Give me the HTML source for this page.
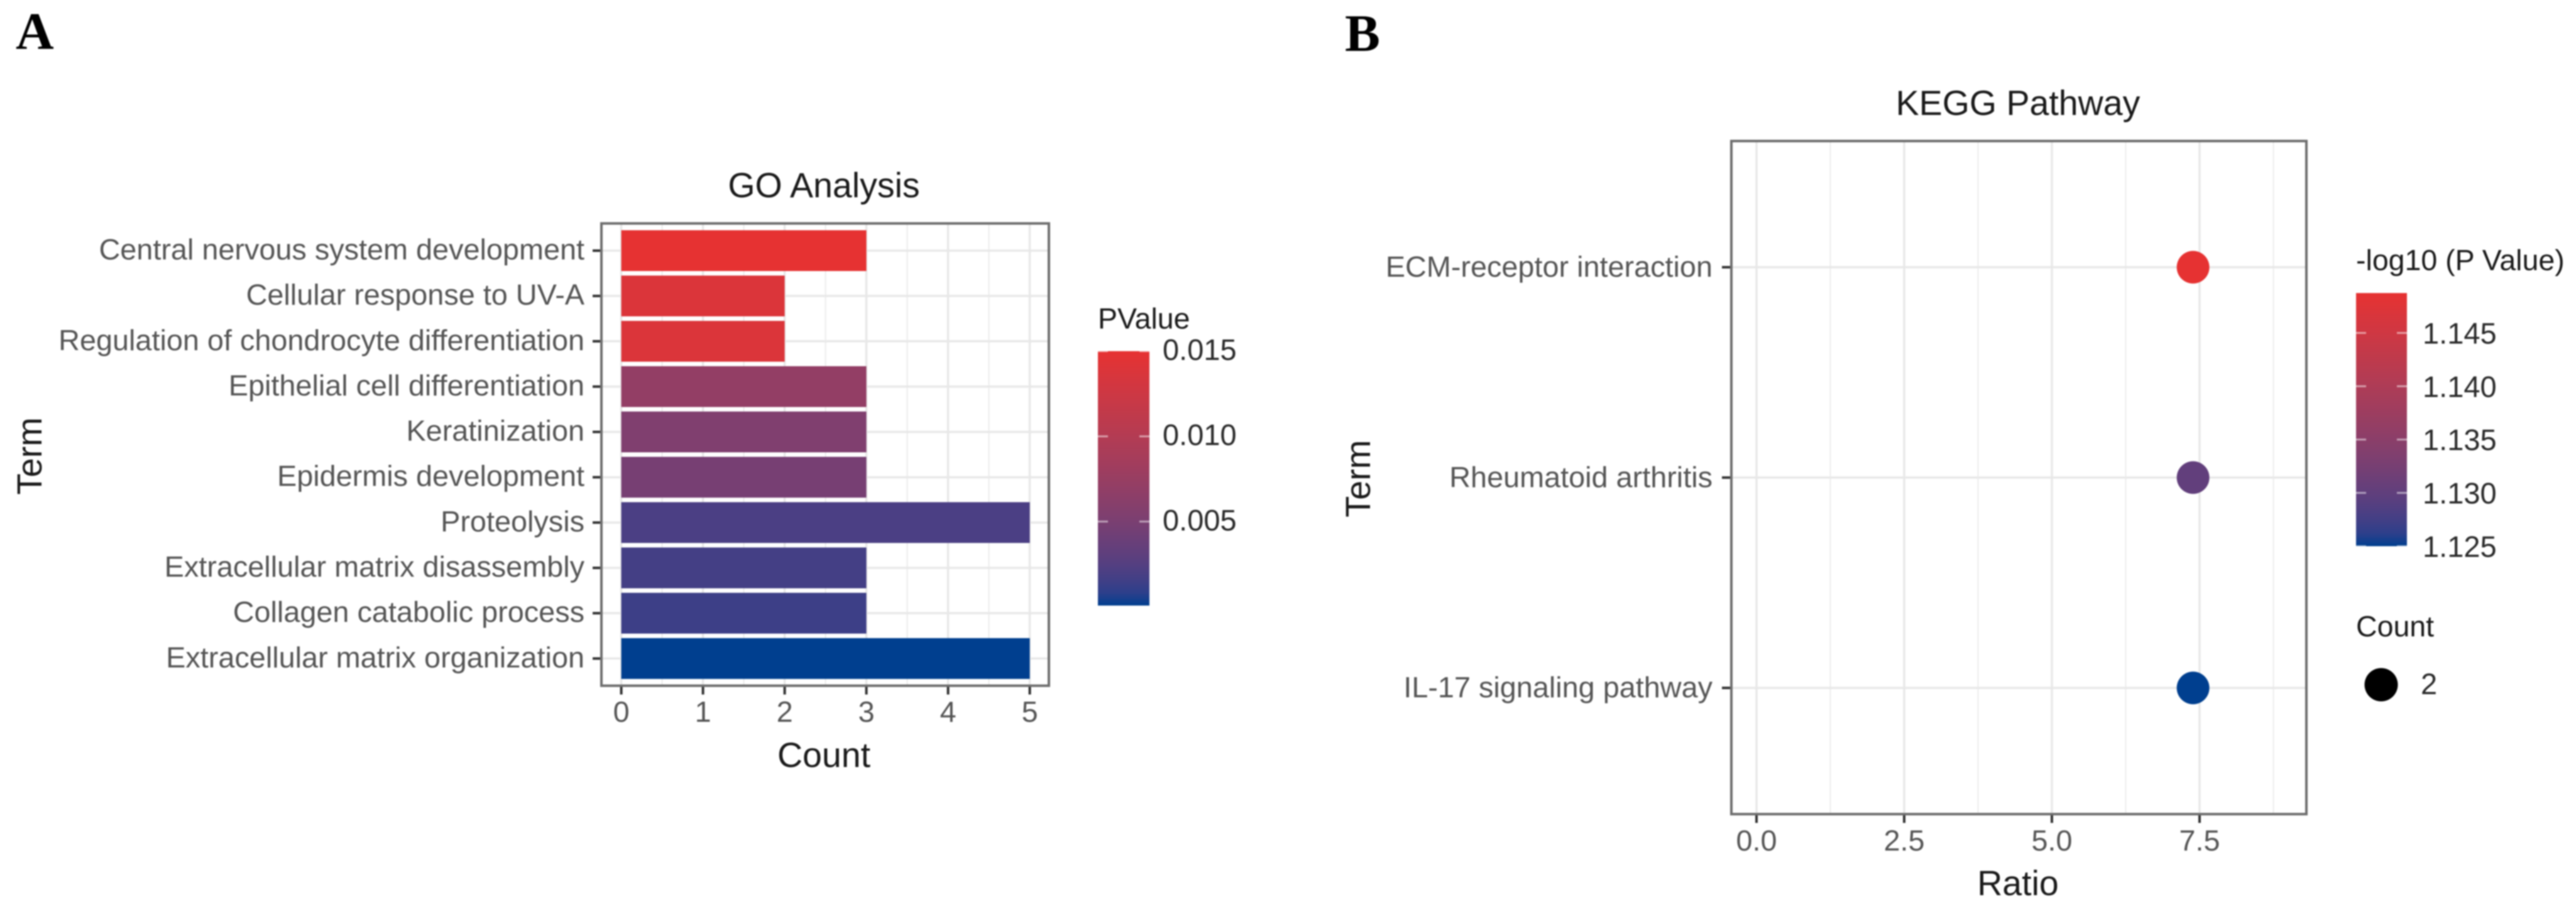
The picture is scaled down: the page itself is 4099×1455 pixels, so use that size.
<!DOCTYPE html>
<html lang="en">
<head>
<meta charset="utf-8">
<title>GO Analysis and KEGG Pathway</title>
<style>
html,body{margin:0;padding:0;background:#fff;width:4099px;height:1455px;overflow:hidden}
svg{display:block;filter:blur(1.1px)}
text{font-family:"Liberation Sans",Arial,sans-serif}
.panel-letter{font-family:"Liberation Serif",serif;font-weight:700;font-size:84px;fill:#000}
.title{font-size:55.5px;fill:#1a1a1a}
.tick{font-size:46.8px;fill:#555555}
.legend-title{font-size:46.5px;fill:#1a1a1a}
.legend-label{font-size:47px;fill:#2a2a2a}
</style>
</head>
<body>
<svg id="figure" xmlns="http://www.w3.org/2000/svg" width="4099" height="1455" viewBox="0 0 4099 1455">
  <rect x="0" y="0" width="4099" height="1455" fill="#ffffff"/>
  <text class="panel-letter" x="25" y="78">A</text>
  <text class="panel-letter" x="2140" y="81">B</text>

  <text class="title" x="1311" y="314" text-anchor="middle">GO Analysis</text>
  <text class="title" x="1311" y="1221" text-anchor="middle">Count</text>
  <text class="title" transform="translate(66 726) rotate(-90)" text-anchor="middle">Term</text>
  <g id="go-plot"></g>
  <text class="legend-title" x="1747" y="523">PValue</text>
  <g id="go-legend"></g>

  <text class="title" x="3211" y="183" text-anchor="middle">KEGG Pathway</text>
  <text class="title" x="3211" y="1425" text-anchor="middle">Ratio</text>
  <text class="title" transform="translate(2180 762) rotate(-90)" text-anchor="middle">Term</text>
  <g id="kegg-plot"></g>
  <text class="legend-title" x="3749" y="430">-log10 (P Value)</text>
  <g id="kegg-legend"></g>
  <text class="legend-title" x="3749" y="1013">Count</text>
  <circle id="count-key" cx="3789" cy="1090" r="26.5" fill="#000000"/>
  <text class="legend-label" x="3852" y="1105">2</text>
</svg>

<script>
const goTerms = ["Central nervous system development","Cellular response to UV-A","Regulation of chondrocyte differentiation","Epithelial cell differentiation","Keratinization","Epidermis development","Proteolysis","Extracellular matrix disassembly","Collagen catabolic process","Extracellular matrix organization"];
const goCounts = [3,2,2,3,3,3,5,3,3,5];
const goPValues = [0.0150,0.0139,0.0139,0.0071,0.0055,0.0048,0.0020,0.0017,0.0014,0.00007];
const goXTicks = [0,1,2,3,4,5];
const goXMinorTicks = [0.5,1.5,2.5,3.5,4.5];
const goLegendTicks = [0.005,0.010,0.015];
const goLegendLabels = ["0.005","0.010","0.015"];
const goPRange = [0.00007,0.015];

const keggTerms = ["ECM-receptor interaction","Rheumatoid arthritis","IL-17 signaling pathway"];
const keggRatios = [7.39,7.39,7.39];
const keggLogP = [1.14874,1.1302,1.125];
const keggXTicks = [0,2.5,5,7.5];
const keggXLabels = ["0.0","2.5","5.0","7.5"];
const keggXMinorTicks = [1.25,3.75,6.25,8.75];
const keggLegendTicks = [1.125,1.130,1.135,1.140,1.145];
const keggLegendLabels = ["1.125","1.130","1.135","1.140","1.145"];
const keggLogPRange = [1.125,1.14874];

const SVGNS = "http://www.w3.org/2000/svg";
const LOW_COLOR = [0,63,143];
const HIGH_COLOR = [230,50,50];

function make(tag, parent, attrs, txt) {
  const node = document.createElementNS(SVGNS, tag);
  for (const k in attrs) node.setAttribute(k, attrs[k]);
  if (txt !== undefined) node.textContent = txt;
  parent.appendChild(node);
  return node;
}
function rgb2lab(c) {
  const l = c.map(function (v) { v /= 255; return v > 0.04045 ? Math.pow((v + 0.055) / 1.055, 2.4) : v / 12.92; });
  const X = (0.4124 * l[0] + 0.3576 * l[1] + 0.1805 * l[2]) / 0.95047;
  const Y = 0.2126 * l[0] + 0.7152 * l[1] + 0.0722 * l[2];
  const Z = (0.0193 * l[0] + 0.1192 * l[1] + 0.9505 * l[2]) / 1.08883;
  const f = function (t) { return t > 0.008856 ? Math.cbrt(t) : 7.787 * t + 16 / 116; };
  return [116 * f(Y) - 16, 500 * (f(X) - f(Y)), 200 * (f(Y) - f(Z))];
}
function lab2css(L, a, b) {
  const fy = (L + 16) / 116, fx = a / 500 + fy, fz = fy - b / 200;
  const g = function (t) { return t * t * t > 0.008856 ? t * t * t : (t - 16 / 116) / 7.787; };
  const X = g(fx) * 0.95047, Y = g(fy), Z = g(fz) * 1.08883;
  const lin = [3.2406 * X - 1.5372 * Y - 0.4986 * Z, -0.9689 * X + 1.8758 * Y + 0.0415 * Z, 0.0557 * X - 0.2040 * Y + 1.0570 * Z];
  const out = lin.map(function (v) {
    v = Math.max(0, Math.min(1, v));
    v = v > 0.0031308 ? 1.055 * Math.pow(v, 1 / 2.4) - 0.055 : 12.92 * v;
    return Math.round(v * 255);
  });
  return "rgb(" + out.join(",") + ")";
}
const LOW_LAB = rgb2lab(LOW_COLOR);
const HIGH_LAB = rgb2lab(HIGH_COLOR);
function colorAt(t) {
  t = Math.max(0, Math.min(1, t));
  return lab2css(LOW_LAB[0] + (HIGH_LAB[0] - LOW_LAB[0]) * t, LOW_LAB[1] + (HIGH_LAB[1] - LOW_LAB[1]) * t, LOW_LAB[2] + (HIGH_LAB[2] - LOW_LAB[2]) * t);
}
function domainColor(v, range) {
  return colorAt((v - range[0]) / (range[1] - range[0]));
}

const defs = make("defs", document.getElementById("figure"), {});
function addGradient(id) {
  const grad = make("linearGradient", defs, { id: id, x1: 0, y1: 1, x2: 0, y2: 0 });
  for (let i = 0; i <= 20; i++) {
    make("stop", grad, { offset: (i / 20), "stop-color": colorAt(i / 20) });
  }
}
addGradient("go-gradient");
addGradient("kegg-gradient");

/* ---------- GO bar chart ---------- */
const goPanel = { left: 957, right: 1669, top: 355.7, bottom: 1091.6 };
const goStep = (goPanel.bottom - goPanel.top) / (goTerms.length - 1 + 1.2);
function goX(v) { return 988.6 + 130 * v; }
function goY(i) { return goPanel.top + (0.6 + i) * goStep; }
const goPlot = document.getElementById("go-plot");

goXMinorTicks.forEach(function (v) {
  const line = make("line", goPlot, { x1: goX(v), x2: goX(v), y1: goPanel.top, y2: goPanel.bottom, stroke: "#ececec", "stroke-width": 2 });
  
  
});
goXTicks.forEach(function (v) {
  const line = make("line", goPlot, { x1: goX(v), x2: goX(v), y1: goPanel.top, y2: goPanel.bottom, stroke: "#e8e8e8", "stroke-width": 3.5 });
  
  
});
goTerms.forEach(function (term, i) {
  const line = make("line", goPlot, { x1: goPanel.left, x2: goPanel.right, y1: goY(i), y2: goY(i), stroke: "#e8e8e8", "stroke-width": 3.5 });
  
  
});
goTerms.forEach(function (term, i) {
  const h = goStep * 0.9;
  const bar = make("rect", goPlot, { x: goX(0), y: goY(i) - h / 2, width: goX(goCounts[i]) - goX(0), height: h, fill: domainColor(goPValues[i], goPRange) });
  
  
  const tick = make("line", goPlot, { x1: goPanel.left - 14, x2: goPanel.left, y1: goY(i), y2: goY(i), stroke: "#333", "stroke-width": 4 });
  
  
  const label = make("text", goPlot, { class: "tick", x: 930, y: goY(i) + 14, "text-anchor": "end" }, term);
  
  
});
goXTicks.forEach(function (v) {
  const tick = make("line", goPlot, { x1: goX(v), x2: goX(v), y1: goPanel.bottom, y2: goPanel.bottom + 14, stroke: "#333", "stroke-width": 4 });
  
  
  const label = make("text", goPlot, { class: "tick", x: goX(v), y: 1149, "text-anchor": "middle" }, String(v));
  
  
});
const goBorder = make("rect", goPlot, { x: goPanel.left, y: goPanel.top, width: goPanel.right - goPanel.left, height: goPanel.bottom - goPanel.top, fill: "none", stroke: "#6e6e6e", "stroke-width": 4 });



const goBar = { x: 1747, w: 82, y0: 964, y1: 559 };
function goLegendY(v) { return goBar.y0 + (v - goPRange[0]) / (goPRange[1] - goPRange[0]) * (goBar.y1 - goBar.y0); }
const goLegend = document.getElementById("go-legend");
const goBarRect = make("rect", goLegend, { x: goBar.x, y: goBar.y1, width: goBar.w, height: goBar.y0 - goBar.y1, fill: "url(#go-gradient)" });


goLegendTicks.forEach(function (v, i) {
  const y = goLegendY(v);
  const t1 = make("line", goLegend, { x1: goBar.x, x2: goBar.x + 16, y1: y, y2: y, stroke: "#fff", "stroke-width": 3, "stroke-opacity": 0.5 });
  
  
  const t2 = make("line", goLegend, { x1: goBar.x + goBar.w - 16, x2: goBar.x + goBar.w, y1: y, y2: y, stroke: "#fff", "stroke-width": 3, "stroke-opacity": 0.5 });
  
  
  const label = make("text", goLegend, { class: "legend-label", x: 1850, y: y + 14 }, goLegendLabels[i]);
  
  
});

/* ---------- KEGG dot chart ---------- */
const keggPanel = { left: 2755, right: 3670, top: 224.5, bottom: 1296 };
const keggStep = (keggPanel.bottom - keggPanel.top) / (keggTerms.length - 1 + 1.2);
function keggX(v) { return 2795 + 94 * v; }
function keggY(i) { return keggPanel.top + (0.6 + i) * keggStep; }
const keggPlot = document.getElementById("kegg-plot");

keggXMinorTicks.forEach(function (v) {
  const line = make("line", keggPlot, { x1: keggX(v), x2: keggX(v), y1: keggPanel.top, y2: keggPanel.bottom, stroke: "#ececec", "stroke-width": 2 });
  
  
});
keggXTicks.forEach(function (v) {
  const line = make("line", keggPlot, { x1: keggX(v), x2: keggX(v), y1: keggPanel.top, y2: keggPanel.bottom, stroke: "#e8e8e8", "stroke-width": 3.5 });
  
  
});
keggTerms.forEach(function (term, i) {
  const line = make("line", keggPlot, { x1: keggPanel.left, x2: keggPanel.right, y1: keggY(i), y2: keggY(i), stroke: "#e8e8e8", "stroke-width": 3.5 });
  
  
});
keggTerms.forEach(function (term, i) {
  const dot = make("circle", keggPlot, { cx: keggX(keggRatios[i]), cy: keggY(i), r: 26, fill: domainColor(keggLogP[i], keggLogPRange) });
  
  
  const tick = make("line", keggPlot, { x1: keggPanel.left - 15, x2: keggPanel.left, y1: keggY(i), y2: keggY(i), stroke: "#333", "stroke-width": 4 });
  
  
  const label = make("text", keggPlot, { class: "tick", x: 2725, y: keggY(i) + 15, "text-anchor": "end" }, term);
  
  
});
keggXTicks.forEach(function (v, i) {
  const tick = make("line", keggPlot, { x1: keggX(v), x2: keggX(v), y1: keggPanel.bottom, y2: keggPanel.bottom + 14, stroke: "#333", "stroke-width": 4 });
  
  
  const label = make("text", keggPlot, { class: "tick", x: keggX(v), y: 1354, "text-anchor": "middle" }, keggXLabels[i]);
  
  
});
const keggBorder = make("rect", keggPlot, { x: keggPanel.left, y: keggPanel.top, width: keggPanel.right - keggPanel.left, height: keggPanel.bottom - keggPanel.top, fill: "none", stroke: "#6e6e6e", "stroke-width": 4 });



const keggBar = { x: 3749, w: 81, y0: 869.5, y1: 466.5 };
function keggLegendY(v) { return keggBar.y0 + (v - keggLogPRange[0]) / (keggLogPRange[1] - keggLogPRange[0]) * (keggBar.y1 - keggBar.y0); }
const keggLegend = document.getElementById("kegg-legend");
const keggBarRect = make("rect", keggLegend, { x: keggBar.x, y: keggBar.y1, width: keggBar.w, height: keggBar.y0 - keggBar.y1, fill: "url(#kegg-gradient)" });


keggLegendTicks.forEach(function (v, i) {
  const y = keggLegendY(v);
  const t1 = make("line", keggLegend, { x1: keggBar.x, x2: keggBar.x + 16, y1: y, y2: y, stroke: "#fff", "stroke-width": 3, "stroke-opacity": 0.5 });
  
  
  const t2 = make("line", keggLegend, { x1: keggBar.x + keggBar.w - 16, x2: keggBar.x + keggBar.w, y1: y, y2: y, stroke: "#fff", "stroke-width": 3, "stroke-opacity": 0.5 });
  
  
  const label = make("text", keggLegend, { class: "legend-label", x: 3855, y: y + 17 }, keggLegendLabels[i]);
  
  
});
</script>
</body>
</html>
